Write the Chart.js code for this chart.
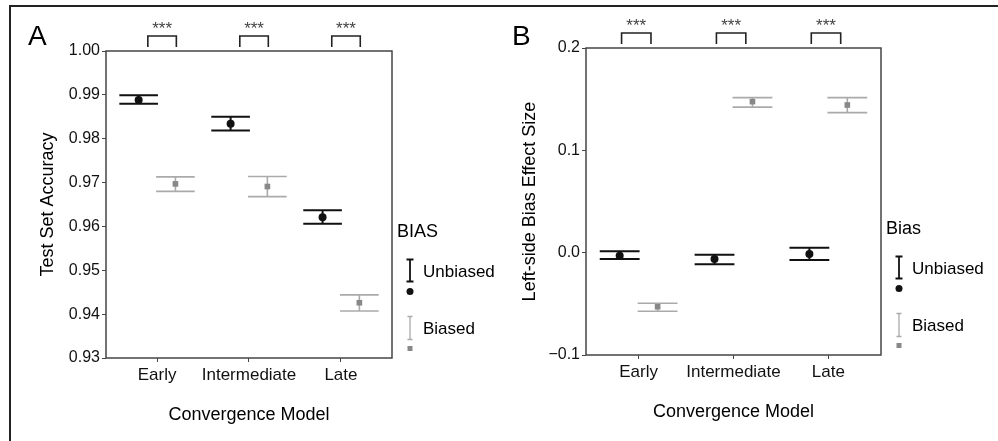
<!DOCTYPE html>
<html>
<head>
<meta charset="utf-8">
<script src="https://cdn.jsdelivr.net/npm/chart.js@4.4.0/dist/chart.umd.min.js"></script>
<style>
  body { margin: 0; background: #fff; }
  #frame { position: absolute; left: 9px; top: 5px; width: 995px; height: 440px;
           border-left: 2px solid #222; border-top: 2px solid #222; }
  canvas { position: absolute; top: 0; }
  #chartA { left: 0; }
  #chartB { left: 499px; }
</style>
</head>
<body>
<div id="frame"></div>
<canvas id="chartA" width="499" height="441"></canvas>
<canvas id="chartB" width="499" height="441"></canvas>
<script>
var categories = ['Early', 'Intermediate', 'Late'];
var sigLabels = ['***', '***', '***'];

// Panel A - test set accuracy (mean and error bar limits)
var accUnbiased     = [0.9888, 0.9834, 0.9621];
var accUnbiasedLow  = [0.9880, 0.9819, 0.9606];
var accUnbiasedHigh = [0.9899, 0.9850, 0.9637];
var accBiased       = [0.9697, 0.9691, 0.9426];
var accBiasedLow    = [0.9680, 0.9668, 0.9407];
var accBiasedHigh   = [0.9713, 0.9714, 0.9444];
var accTicks = [0.93, 0.94, 0.95, 0.96, 0.97, 0.98, 0.99, 1.00];

// Panel B - left-side bias effect size
var effUnbiased     = [-0.0030, -0.0062, -0.0013];
var effUnbiasedLow  = [-0.0062, -0.0113, -0.0071];
var effUnbiasedHigh = [0.0013, -0.0020, 0.0049];
var effBiased       = [-0.0528, 0.1476, 0.1443];
var effBiasedLow    = [-0.0573, 0.1422, 0.1368];
var effBiasedHigh   = [-0.0495, 0.1515, 0.1515];
var effTicks = [-0.1, 0.0, 0.1, 0.2];

var FONT = "'Liberation Sans', Arial, sans-serif";
var dodge = 0.2;
var capHalf = 0.21;

function points(values, shift) {
    return values.map(function (v, i) { return {x: i + 1 + shift, y: v}; });
}

// error bars drawn under the points
var errorBars = {
    id: 'errorBars',
    beforeDatasetsDraw: function (chart) {
        var ctx = chart.ctx, xs = chart.scales.x, ys = chart.scales.y;
        chart.data.datasets.forEach(function (ds) {
            ctx.save();
            ctx.strokeStyle = ds.barColor;
            ctx.lineWidth = ds.barWidth;
            ds.data.forEach(function (p, i) {
                var x = xs.getPixelForValue(p.x);
                var half = xs.getPixelForValue(p.x + capHalf) - x;
                var lo = ys.getPixelForValue(ds.lows[i]);
                var hi = ys.getPixelForValue(ds.highs[i]);
                ctx.beginPath();
                ctx.moveTo(x, lo); ctx.lineTo(x, hi);
                ctx.moveTo(x - half, lo); ctx.lineTo(x + half, lo);
                ctx.moveTo(x - half, hi); ctx.lineTo(x + half, hi);
                ctx.stroke();
            });
            ctx.restore();
        });
    }
};

// panel box, significance brackets, legend and panel letter
var decorations = {
    id: 'decorations',
    afterDraw: function (chart, args, opts) {
        var ctx = chart.ctx, a = chart.chartArea, xs = chart.scales.x;
        ctx.save();
        ctx.strokeStyle = '#444';
        ctx.lineWidth = 1.5;
        ctx.strokeRect(a.left, a.top, a.right - a.left, a.bottom - a.top);

        // brackets
        ctx.strokeStyle = '#222';
        ctx.lineWidth = 1.6;
        ctx.fillStyle = '#444';
        ctx.font = '17px ' + FONT;
        ctx.textAlign = 'center';
        ctx.textBaseline = 'middle';
        categories.forEach(function (c, i) {
            var x1 = xs.getPixelForValue(i + 1 + opts.sigFrom);
            var x2 = xs.getPixelForValue(i + 1 + opts.sigTo);
            var top = a.top - 15, bot = a.top - 4;
            ctx.beginPath();
            ctx.moveTo(x1, bot); ctx.lineTo(x1, top); ctx.lineTo(x2, top); ctx.lineTo(x2, bot);
            ctx.stroke();
            ctx.fillText(sigLabels[i], (x1 + x2) / 2, a.top - 22);
        });

        // panel letter
        ctx.fillStyle = '#000';
        ctx.font = '28px ' + FONT;
        ctx.textAlign = 'left';
        ctx.textBaseline = 'alphabetic';
        ctx.fillText(opts.letter, opts.letterX, 45);

        // legend
        var lx = a.right + 5, mid = (a.top + a.bottom) / 2, gx = a.right + 18;
        ctx.font = '18px ' + FONT;
        ctx.textBaseline = 'middle';
        ctx.fillText(opts.legendTitle, lx, mid + 28);
        ctx.font = '17px ' + FONT;
        var offs = [{bar: [55, 77], dot: 87, text: 68}, {bar: [112, 135], dot: 144, text: 125}];
        chart.data.datasets.forEach(function (ds, k) {
            var o = offs[k], cw = k === 0 ? 3.5 : 2.5;
            ctx.strokeStyle = ds.barColor;
            ctx.lineWidth = k === 0 ? 1.8 : 1.3;
            ctx.beginPath();
            ctx.moveTo(gx, mid + o.bar[0]); ctx.lineTo(gx, mid + o.bar[1]);
            ctx.moveTo(gx - cw, mid + o.bar[0]); ctx.lineTo(gx + cw, mid + o.bar[0]);
            ctx.moveTo(gx - cw, mid + o.bar[1]); ctx.lineTo(gx + cw, mid + o.bar[1]);
            ctx.stroke();
            ctx.fillStyle = ds.backgroundColor;
            if (k === 0) {
                ctx.beginPath(); ctx.arc(gx, mid + o.dot, 3.5, 0, Math.PI * 2); ctx.fill();
            } else {
                ctx.fillRect(gx - 2.5, mid + o.dot - 2.5, 5, 5);
            }
            ctx.fillStyle = '#000';
            ctx.fillText(ds.label, gx + 13, mid + o.text);
        });
        ctx.restore();
    }
};

function makeChart(id, cfg) {
    return new Chart(document.getElementById(id), {
        type: 'scatter',
        data: {
            datasets: [{
                label: 'Unbiased',
                data: points(cfg.unbiased, -dodge),
                lows: cfg.unbiasedLow, highs: cfg.unbiasedHigh,
                backgroundColor: '#111', borderColor: '#111',
                pointStyle: 'circle', pointRadius: 4, pointBorderWidth: 0,
                barColor: '#111', barWidth: 2
            }, {
                label: 'Biased',
                data: points(cfg.biased, dodge),
                lows: cfg.biasedLow, highs: cfg.biasedHigh,
                backgroundColor: '#888', borderColor: '#888',
                pointStyle: 'rect', pointRadius: 4, pointBorderWidth: 0,
                barColor: '#aaa', barWidth: 1.6
            }]
        },
        options: {
            responsive: false,
            animation: false,
            layout: {padding: cfg.padding},
            plugins: {
                legend: {display: false},
                tooltip: {enabled: false},
                decorations: {letter: cfg.letter, letterX: cfg.letterX, legendTitle: cfg.legendTitle,
                              sigFrom: cfg.sigFrom, sigTo: cfg.sigTo}
            },
            scales: {
                x: {
                    type: 'linear', min: 0.445, max: 3.555,
                    afterBuildTicks: function (s) {
                        s.ticks = categories.map(function (c, i) { return {value: i + 1}; });
                    },
                    afterFit: function (s) { s.height = cfg.xHeight; },
                    ticks: {
                        callback: function (v) { return categories[Math.round(v) - 1]; },
                        font: {family: FONT, size: 17}, color: '#111', padding: 3, maxRotation: 0
                    },
                    grid: {drawOnChartArea: false, drawTicks: true, tickLength: 4, color: '#444'},
                    border: {display: false},
                    title: {display: true, text: 'Convergence Model', color: '#000',
                            font: {family: FONT, size: 18}, padding: {top: 0, bottom: cfg.xTitlePad}}
                },
                y: {
                    min: cfg.yMin, max: cfg.yMax,
                    afterBuildTicks: function (s) {
                        s.ticks = cfg.ticks.map(function (v) { return {value: v}; });
                    },
                    afterFit: function (s) { s.width = cfg.yWidth; },
                    ticks: {
                        callback: cfg.tickFormat,
                        font: {family: FONT, size: 16}, color: '#111', padding: 2
                    },
                    grid: {drawOnChartArea: false, drawTicks: true, tickLength: 4, color: '#444'},
                    border: {display: false},
                    title: {display: true, text: cfg.yTitle, color: '#000',
                            font: {family: FONT, size: 18}, padding: {top: cfg.yTitlePad, bottom: 0}}
                }
            }
        },
        plugins: [errorBars, decorations]
    });
}

makeChart('chartA', {
    unbiased: accUnbiased, unbiasedLow: accUnbiasedLow, unbiasedHigh: accUnbiasedHigh,
    biased: accBiased, biasedLow: accBiasedLow, biasedHigh: accBiasedHigh,
    ticks: accTicks, yMin: 0.93, yMax: 1.00,
    tickFormat: function (v) { return v.toFixed(2); },
    yTitle: 'Test Set Accuracy', legendTitle: 'BIAS',
    letter: 'A', letterX: 28, sigFrom: -0.1, sigTo: 0.21,
    padding: {left: 0, top: 51, right: 107, bottom: 0},
    xHeight: 83, yWidth: 106, xTitlePad: 15, yTitlePad: 37
});

makeChart('chartB', {
    unbiased: effUnbiased, unbiasedLow: effUnbiasedLow, unbiasedHigh: effUnbiasedHigh,
    biased: effBiased, biasedLow: effBiasedLow, biasedHigh: effBiasedHigh,
    ticks: effTicks, yMin: -0.1, yMax: 0.2,
    tickFormat: function (v) { return v < 0 ? '\u2212' + Math.abs(v).toFixed(1) : v.toFixed(1); },
    yTitle: 'Left-side Bias Effect Size', legendTitle: 'Bias',
    letter: 'B', letterX: 13, sigFrom: -0.18, sigTo: 0.13,
    padding: {left: 0, top: 48, right: 117, bottom: 0},
    xHeight: 86, yWidth: 87, xTitlePad: 18, yTitlePad: 20
});
</script>
</body>
</html>
